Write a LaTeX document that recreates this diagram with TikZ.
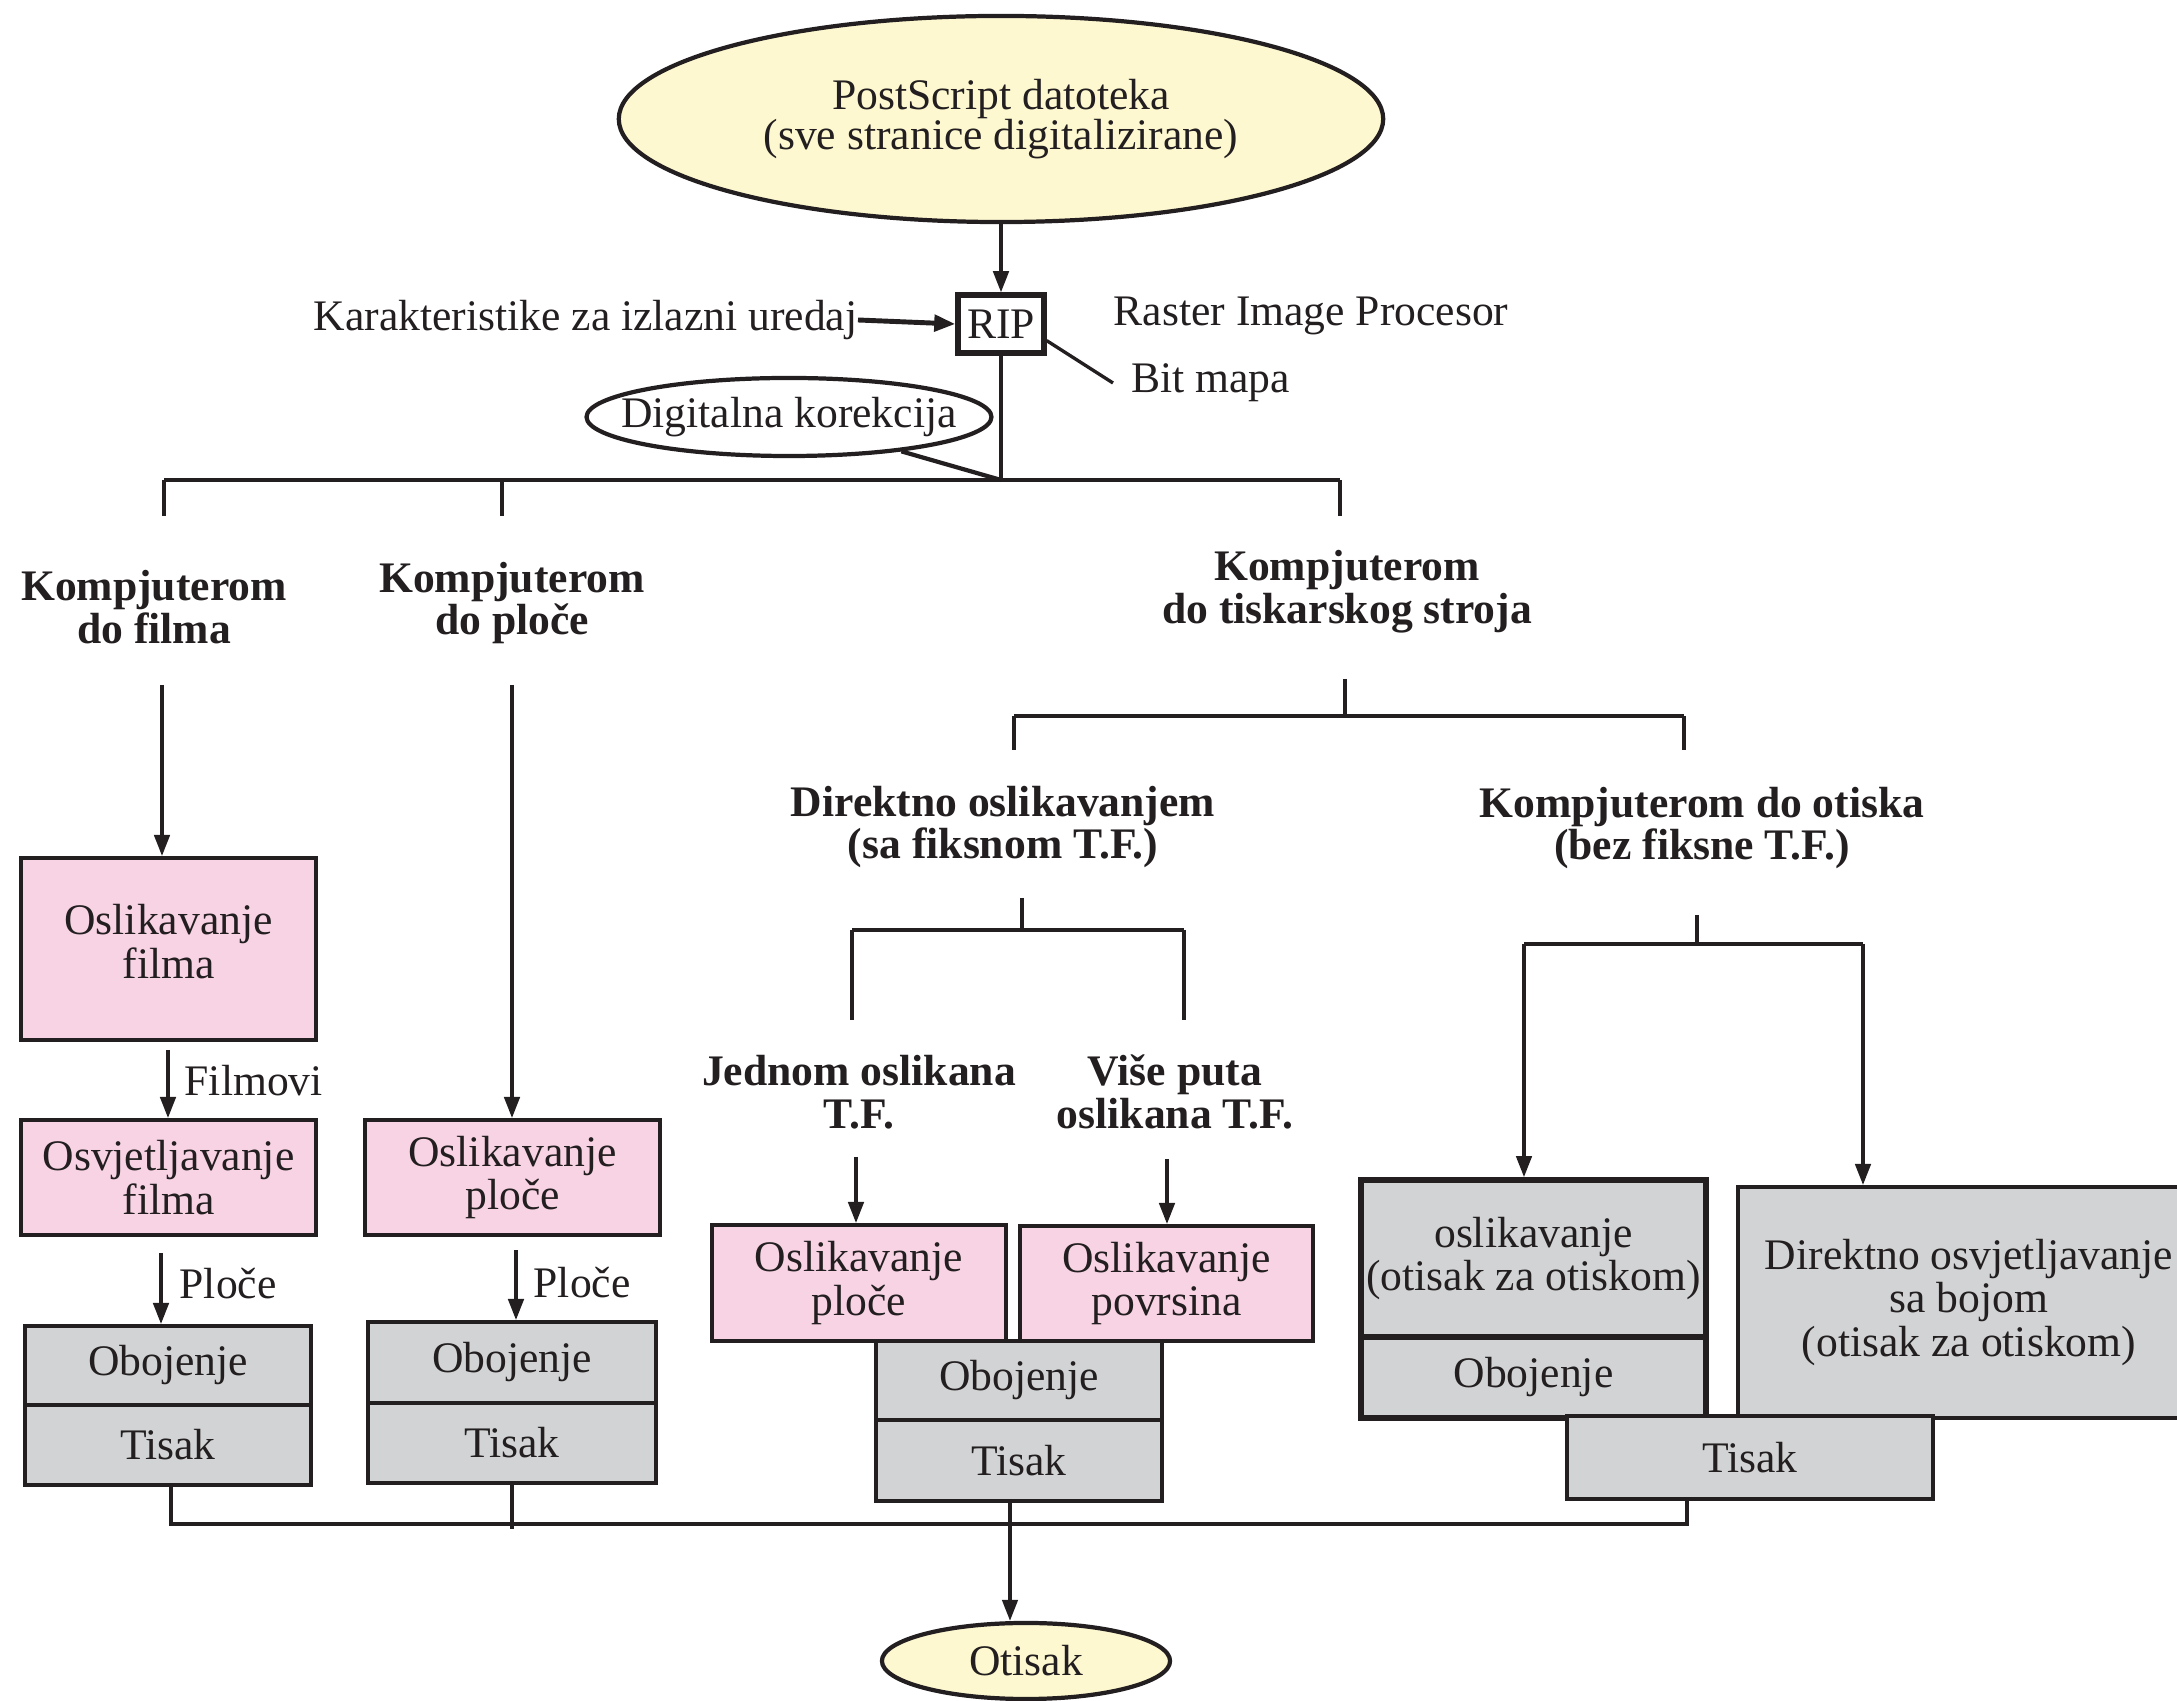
\documentclass[tikz,border=0pt]{standalone}
\usepackage{fontspec}
\setmainfont{Liberation Serif}
\usetikzlibrary{shapes.geometric,arrows.meta}
\definecolor{ink}{HTML}{231F20}
\definecolor{yelf}{HTML}{FDF8D0}
\definecolor{pinkf}{HTML}{F8D3E4}
\definecolor{grayf}{HTML}{D1D3D4}
\begin{document}
\begin{tikzpicture}[x=0.01cm,y=-0.01cm,
  txt/.style={font=\fontsize{12.4}{12.4}\selectfont, text=ink, align=center, inner sep=0pt},
  hd/.style={font=\fontsize{12.4}{12.2}\selectfont\bfseries, text=ink, align=center, inner sep=0pt},
  boxbase/.style={txt, draw=ink, line width=1.1pt, rectangle},
  pbox/.style={boxbase, fill=pinkf},
  gbox/.style={boxbase, fill=grayf},
  conn/.style={draw=ink, line width=0.95pt},
  bar/.style={draw=ink, line width=1.3pt},
  arr/.style={conn, -{Triangle[length=6pt,width=4.4pt]}},
  oval/.style={txt, ellipse, draw=ink, line width=1.2pt, inner sep=0pt},
]
\useasboundingbox (0,0) rectangle (2177,1701);
\clip (0,0) rectangle (2177,1701);

% top
\node[oval, fill=yelf, minimum width=7.64cm, minimum height=2.06cm,
      font=\fontsize{12.4}{11.6}\selectfont] (ps) at (1001,119)
      {PostScript datoteka\\(sve stranice digitalizirane)};
\node[txt, draw=ink, line width=1.5pt, minimum width=0.86cm, minimum height=0.58cm] (rip) at (1001,324) {RIP};
\node[txt, anchor=east] (kar) at (858,320) {Karakteristike za izlazni uredaj};
\node[txt, anchor=west] (rasp) at (1113,316) {Raster Image Procesor};
\node[txt, anchor=west, inner xsep=5pt] (bm) at (1113,383) {Bit mapa};
\node[oval, inner xsep=-0.245cm, inner ysep=0pt, minimum height=0.78cm] (dk) at (789,417) {Digitalna korekcija};

\draw[arr] (ps.south) -- (rip.north);
\draw[draw=ink, line width=1.4pt, -{Triangle[length=6pt,width=4.6pt]}] (kar.east) -- (rip.west);
\draw[conn] (rip.-20) -- (bm.west);

\coordinate (j0) at (1001,480);
\coordinate (bl) at (164,480);
\coordinate (bm2) at (502,480);
\coordinate (br) at (1340,480);
\draw[conn] (rip.south) -- (j0);
\draw[conn, line width=1.2pt] (dk.-17) -- (j0);
\draw[bar] (bl) -- (br);
\draw[conn] (bl) -- ++(0,36);
\draw[conn] (bm2) -- ++(0,36);
\draw[conn] (br) -- ++(0,36);

% headings
\node[hd] (h1) at (154,607) {Kompjuterom\\do filma};
\node[hd] (h2) at (512,603) {Kompjuterom\\do ploče};
\node[hd] (h3) at (1347,592) {Kompjuterom\\do tiskarskog stroja};

% column 1
\node[pbox, minimum width=2.95cm, minimum height=1.82cm, text depth=0.15cm] (b1) at (168.5,949) {Oslikavanje\\filma};
\node[pbox, minimum width=2.95cm, minimum height=1.15cm] (b2) at (168.5,1177.5) {Osvjetljavanje\\filma};
\node[gbox, minimum width=2.86cm, minimum height=0.79cm] (b3a) at (168,1365.5) {Obojenje};
\node[gbox, minimum width=2.86cm, minimum height=0.80cm] (b3b) at (168,1445) {Tisak};
\coordinate (a1) at (162,685);
\draw[arr] (a1) -- (a1 |- b1.north);
\coordinate (f1) at (168,1050);
\draw[arr] (f1) -- (f1 |- b2.north);
\node[txt, anchor=west] (filmovi) at (184,1081) {Filmovi};
\coordinate (p1) at (161,1253);
\draw[arr] (p1) -- (p1 |- b3a.north);
\node[txt, anchor=west] (ploce1) at (179,1284) {Ploče};

% column 2
\node[pbox, minimum width=2.95cm, minimum height=1.15cm] (b4) at (512.5,1177.5) {Oslikavanje\\ploče};
\node[gbox, minimum width=2.88cm, minimum height=0.81cm] (b5a) at (512,1362.5) {Obojenje};
\node[gbox, minimum width=2.88cm, minimum height=0.80cm] (b5b) at (512,1443) {Tisak};
\coordinate (a2) at (512,685);
\draw[arr] (a2) -- (a2 |- b4.north);
\coordinate (p2) at (516,1250);
\draw[arr] (p2) -- (p2 |- b5a.north);
\node[txt, anchor=west] (ploce2) at (533,1283) {Ploče};

% column 3 tree
\coordinate (t0) at (1345,679);
\coordinate (t1) at (1345,716);
\coordinate (tl) at (1014,716);
\coordinate (tr) at (1684,716);
\draw[conn] (t0) -- (t1);
\draw[bar] (tl) -- (tr);
\draw[conn] (tl) -- ++(0,34);
\draw[conn] (tr) -- ++(0,34);

\node[hd] (hd1) at (1003,827) {Direktno oslikavanjem\\(sa fiksnom T.F.)};
\node[hd] (hd2) at (1702,828) {Kompjuterom do otiska\\(bez fiksne T.F.)};

\coordinate (d0) at (1022,898);
\coordinate (d1) at (1022,930);
\coordinate (dl) at (852,930);
\coordinate (dr) at (1184,930);
\draw[conn] (d0) -- (d1);
\draw[bar] (dl) -- (dr);
\draw[conn] (dl) -- ++(0,90);
\draw[conn] (dr) -- ++(0,90);

\node[hd] (jed) at (859,1092) {Jednom oslikana\\T.F.};
\node[hd] (vise) at (1175,1092) {Više puta\\oslikana T.F.};

\node[pbox, minimum width=2.94cm, minimum height=1.16cm] (b6) at (859,1283) {Oslikavanje\\ploče};
\node[pbox, minimum width=2.93cm, minimum height=1.15cm] (b7) at (1166.5,1283.5) {Oslikavanje\\povrsina};
\node[gbox, minimum width=2.86cm, minimum height=0.79cm] (b8a) at (1019,1380.5) {Obojenje};
\node[gbox, minimum width=2.86cm, minimum height=0.81cm] (b8b) at (1019,1460.5) {Tisak};
\coordinate (a3) at (856,1157);
\draw[arr] (a3) -- (a3 |- b6.north);
\coordinate (a4) at (1167,1159);
\draw[arr] (a4) -- (a4 |- b7.north);

% otiska tree
\coordinate (o0) at (1697,915);
\coordinate (o1) at (1697,944);
\coordinate (ol) at (1524,944);
\coordinate (or) at (1863,944);
\draw[conn] (o0) -- (o1);
\draw[bar] (ol) -- (or);

\node[gbox, line width=1.6pt, minimum width=3.45cm, minimum height=1.57cm] (b9a) at (1533.5,1258.5) {oslikavanje\\(otisak za otiskom)};
\node[gbox, line width=1.6pt, minimum width=3.45cm, minimum height=0.81cm] (b9b) at (1533.5,1377.5) {Obojenje};
\node[gbox, minimum width=4.62cm, minimum height=2.31cm] (b10) at (1969,1302.5) {Direktno osvjetljavanje\\sa bojom\\(otisak za otiskom)};
\node[gbox, minimum width=3.66cm, minimum height=0.83cm] (b11) at (1750,1457.5) {Tisak};
\draw[arr] (ol) -- (ol |- b9a.north);
\draw[arr] (or) -- (or |- b10.north);

% bottom
\node[oval, fill=yelf, minimum width=2.88cm, minimum height=0.76cm] (ot) at (1026,1661) {Otisak};
\coordinate (q1) at (171,1524);
\coordinate (q2) at (1687,1524);
\draw[conn] (q1 |- b3b.south) -- (q1) -- (q2) -- (q2 |- b11.south);
\draw[conn] (b5b.south) -- ++(0,44);
\coordinate (ax) at (1010,1501);
\draw[arr] (ax) -- (ax |- ot.north);
\end{tikzpicture}
\end{document}
